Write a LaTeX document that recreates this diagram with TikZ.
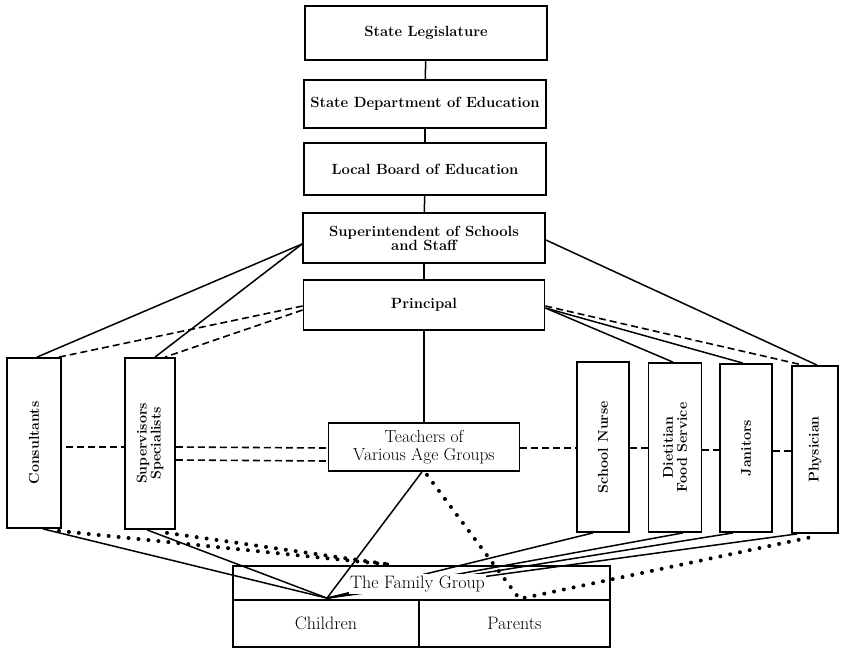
\documentclass[tikz,border=0pt]{standalone}
\usepackage{fontspec}
\usetikzlibrary{calc}
\begin{document}
\begin{tikzpicture}[x=1pt,y=-1pt,
 box/.style={draw, line width=1.8pt, rectangle, inner sep=0pt, align=center},
 topfont/.style={font=\bfseries\fontsize{14.8}{14}\selectfont},
 regfont/.style={font=\fontsize{18}{15.5}\selectfont},
 teachfont/.style={font=\fontsize{17.5}{17.5}\selectfont},
 rotlabel/.style={rotate=90, align=center, inner sep=0pt, font=\bfseries\fontsize{14.2}{14}\selectfont},
 conn/.style={line width=1.5pt},
 dashline/.style={line width=1.6pt, dash pattern=on 7pt off 4pt},
 dotline/.style={line width=4pt, line cap=round, dash pattern=on 0pt off 10pt},
]
\useasboundingbox (0,0) rectangle (841,648);

% vertical chain
\node[box, topfont, minimum width=242, minimum height=54] (leg) at (426,33) {State Legislature};
\node[box, topfont, minimum width=242, minimum height=48] (dept) at (425,104) {State Department of Education};
\node[box, topfont, minimum width=242, minimum height=52] (board) at (425,169) {Local Board of Education};
\node[box, topfont, minimum width=242, minimum height=50] (super) at (424,238) {Superintendent of Schools\\and Staff};
\node[box, topfont, minimum width=241, minimum height=50] (prin) at (424,305) {Principal};
\node[box, teachfont, minimum width=191, minimum height=48] (teach) at (424,447) {Teachers of\\Various Age Groups};

% side boxes
\node[box, minimum width=54, minimum height=170] (cons) at (34,443) {};
\node[rotlabel] at (cons) {Consultants};
\node[box, minimum width=50, minimum height=171] (sup) at (150,443.5) {};
\node[rotlabel] at (sup) {Supervisors\\Specialists};
\node[box, minimum width=52, minimum height=170] (nurse) at (603,447) {};
\node[rotlabel] at (nurse) {School Nurse};
\node[box, minimum width=53, minimum height=169] (diet) at (675,447.5) {};
\node[rotlabel] at (diet) {Dietitian\\Food Service};
\node[box, minimum width=52, minimum height=168] (jan) at (746,448) {};
\node[rotlabel] at (jan) {Janitors};
\node[box, minimum width=46, minimum height=167] (phys) at (815,449.5) {};
\node[rotlabel] at (phys) {Physician};

% family group
\node[box, minimum width=377, minimum height=34] (fam) at (421.5,583) {};
\node[box, regfont, minimum width=186, minimum height=47] (children) at (326,623.5) {Children};
\node[box, regfont, minimum width=191, minimum height=47] (parents) at (514.5,623.5) {Parents};

\coordinate (cp) at ($(children.north)+(1,-1)$);
\coordinate (dm) at ($(fam.north west)+(162,0)$);
\coordinate (dp) at ($(fam.south)+(98,-2)$);

% vertical connectors
\draw[conn] (leg) -- (dept);
\draw[conn] (dept) -- (board);
\draw[conn] (board) -- (super);
\draw[conn] (super) -- (prin);
\draw[conn] (prin) -- (teach);

% superintendent
\draw[conn] ($(super.west)+(0,6)$) -- ($(cons.north)+(3,0)$);
\draw[conn] ($(super.west)+(0,6)$) -- ($(sup.north)+(5,0)$);
\draw[conn] ($(super.east)+(0,2)$) -- ($(phys.north)+(2,0)$);

% principal
\draw[dashline] ($(prin.west)+(0,1)$) -- ($(cons.north east)+(-3,0)$);
\draw[dashline] ($(prin.west)+(0,5)$) -- ($(sup.north)+(15,0)$);
\draw[conn] ($(prin.east)+(0,3)$) -- ($(diet.north)+(-2,0)$);
\draw[conn] ($(prin.east)+(0,3)$) -- ($(jan.north)+(-3,0)$);
\draw[dashline] ($(prin.east)+(0,1)$) -- ($(phys.north)+(-12,0)$);

% horizontal dashed
\draw[dashline] ($(cons.east)+(4,4)$) -- ($(sup.west)+(0,3.5)$);
\draw[dashline] ($(sup.east)+(0,3.5)$) -- ($(teach.west)+(0,1)$);
\draw[dashline] ($(sup.east)+(0,16.5)$) -- ($(teach.west)+(0,14)$);
\draw[dashline] ($(teach.east)+(0,1)$) -- ($(nurse.west)+(0,1)$);
\draw[dashline] ($(nurse.east)+(0,1)$) -- ($(diet.west)+(0,0.5)$);
\draw[dashline] ($(diet.east)+(0,2.5)$) -- ($(jan.west)+(0,2)$);
\draw[dashline] ($(jan.east)+(0,3)$) -- ($(phys.west)+(0,1.5)$);

% right boxes to children
\draw[conn] ($(nurse.south)+(-10,0)$) -- (cp);
\draw[conn] ($(diet.south)+(8,0)$) -- (cp);
\draw[conn] ($(jan.south)+(-13,0)$) -- (cp);
\draw[conn] ($(phys.south)+(-18,0)$) -- (cp);

\node[fill=white, inner sep=1.5pt, regfont] (famlabel) at ($(fam.center)+(-4,1)$) {The Family Group};

% left boxes and teachers to children
\draw[conn] ($(cons.south)+(9,0)$) -- (cp);
\draw[conn] ($(sup.south)+(-3,0)$) -- (cp);
\draw[conn] ($(teach.south)+(-2,0)$) -- (cp);

% dotted
\draw[dotline] ($(cons.south east)+(-3,2)$) -- (dm);
\draw[dotline] ($(sup.south)+(17,3)$) -- (dm);
\draw[dotline] ($(teach.south)+(3,3)$) -- (dp) -- ($(phys.south)+(2,2)$);
\end{tikzpicture}
\end{document}
